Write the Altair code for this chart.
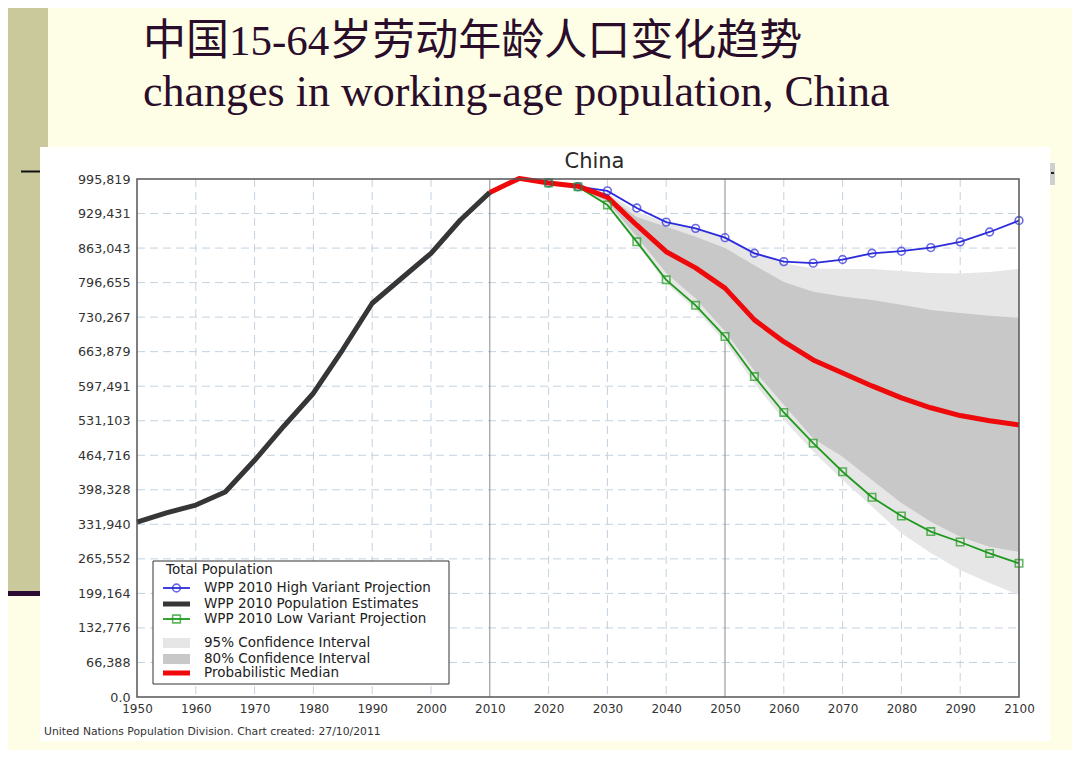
import altair as alt
import pandas as pd

# ---------------- data ----------------
YEARS_EST = [1950, 1955, 1960, 1965, 1970, 1975, 1980, 1985, 1990, 1995, 2000, 2005, 2010]
POP_EST = [336000, 354000, 369000, 394000, 455000, 521000, 584000, 668000, 757000, 805000, 853000, 917000, 970000]

YEARS_MED = [2010, 2015, 2020, 2025, 2030, 2035, 2040, 2045, 2050, 2055, 2060,
             2065, 2070, 2075, 2080, 2085, 2090, 2095, 2100]
POP_MEDIAN = [970000, 997000, 988000, 982000, 961000, 907000, 856000, 825000, 786000, 725000, 683000,
              648000, 623000, 598000, 575000, 556000, 541000, 531000, 523000]

YEARS_VAR = [2020, 2025, 2030, 2035, 2040, 2045, 2050, 2055, 2060, 2065,
             2070, 2075, 2080, 2085, 2090, 2095, 2100]
POP_HIGH = [988000, 981000, 973000, 940000, 913000, 901000, 883000, 853000, 837000, 834000,
            841000, 853000, 857000, 864000, 875000, 894000, 916000]
POP_LOW = [988000, 981000, 946000, 875000, 802000, 753000, 693000, 616000, 547000, 488000,
           433000, 384000, 348000, 318000, 298000, 276000, 257000]

YEARS_CI = [2025, 2030, 2035, 2040, 2045, 2050, 2055, 2060, 2065, 2070,
            2075, 2080, 2085, 2090, 2095, 2100]
CI80_LOW = [982000, 952000, 885000, 815000, 766000, 703000, 627000, 562000, 497000, 462000,
            417000, 373000, 337000, 308000, 289000, 279000]
CI80_HIGH = [982000, 964000, 923000, 904000, 885000, 863000, 830000, 798000, 779000, 770000,
             763000, 754000, 744000, 738000, 733000, 729000]
CI95_LOW = [982000, 945000, 870000, 795000, 745000, 683000, 603000, 533000, 472000, 417000,
            366000, 315000, 277000, 244000, 219000, 196000]
CI95_HIGH = [982000, 968000, 933000, 912000, 900000, 882000, 856000, 834000, 824000, 823000,
             823000, 819000, 815000, 814000, 817000, 823000]

X_TICKS = [1950, 1960, 1970, 1980, 1990, 2000, 2010, 2020, 2030, 2040, 2050,
           2060, 2070, 2080, 2090, 2100]
Y_TICKS = [0, 66388, 132776, 199164, 265552, 331940, 398328, 464716, 531103,
           597491, 663879, 730267, 796655, 863043, 929431, 995819]
SOLID_GRID_YEARS = [2010, 2050]

TITLE_ZH = "中国15-64岁劳动年龄人口变化趋势"
TITLE_EN = "changes in working-age population, China"
CHART_TITLE = "China"
SOURCE = "United Nations Population Division. Chart created: 27/10/2011"
LEGEND_TITLE = "Total Population"
LEGEND_LABELS = ["WPP 2010 High Variant Projection", "WPP 2010 Population Estimates",
                 "WPP 2010 Low Variant Projection", "95% Confidence Interval",
                 "80% Confidence Interval", "Probabilistic Median"]

# ---------------- styling ----------------
W, H = 882, 518
BLUE = "#2b2bdc"
GREEN = "#1f9a1f"
RED = "#ee0a0a"
BLACK = "#363636"
GRAY80 = "#c8c8c8"
GRAY95 = "#e6e6e6"
GRID = "#c3d2df"
FONT = "DejaVu Sans"

XS = alt.Scale(domain=[1950, 2100], nice=False, zero=False)
YS = alt.Scale(domain=[0, 995819], nice=False, zero=True)
XAX = alt.Axis(values=X_TICKS, format="d", grid=False, domain=False, ticks=False,
               labelPadding=6, labelFontSize=12, labelFont=FONT, labelColor="#333",
               title=None, zindex=1, labelFlush=False, labelOverlap=False)
YAX = alt.Axis(values=Y_TICKS, grid=False, domain=False, ticks=False,
               labelExpr="datum.value == 0 ? '0.0' : format(datum.value, ',.0f')",
               labelPadding=7, labelFontSize=12.7, labelFont=FONT, labelColor="#333",
               title=None, zindex=1, labelFlush=False, labelOverlap=False)


def X(f):
    return alt.X(f, type="quantitative", scale=XS, axis=XAX)


def Y(f):
    return alt.Y(f, type="quantitative", scale=YS, axis=YAX)


ONE = pd.DataFrame({"a": [0]})


def box(x, x2, y, y2, **kw):
    return alt.Chart(ONE).mark_rect(**kw).encode(
        x=alt.value(x), x2=alt.value(x2), y=alt.value(y), y2=alt.value(y2))


def hline(x, x2, y, **kw):
    return alt.Chart(ONE).mark_rule(**kw).encode(
        x=alt.value(x), x2=alt.value(x2), y=alt.value(y))


def label(txt, x, y, **kw):
    return alt.Chart(ONE).mark_text(text=txt, **kw).encode(x=alt.value(x), y=alt.value(y))


def sym(shape, x, y, color):
    return alt.Chart(ONE).mark_point(shape=shape, filled=False, size=60, color=color,
                                     strokeWidth=1.6).encode(x=alt.value(x), y=alt.value(y))


# ---------------- tables ----------------
est = pd.DataFrame({"year": YEARS_EST, "pop": POP_EST})
med = pd.DataFrame({"year": YEARS_MED, "pop": POP_MEDIAN})
hi = pd.DataFrame({"year": YEARS_VAR, "pop": POP_HIGH})
lo = pd.DataFrame({"year": YEARS_VAR, "pop": POP_LOW})
ci = pd.DataFrame({"year": YEARS_CI, "lo80": CI80_LOW, "hi80": CI80_HIGH,
                   "lo95": CI95_LOW, "hi95": CI95_HIGH})
vgrid_dash = pd.DataFrame({"year": [y for y in X_TICKS[1:-1] if y not in SOLID_GRID_YEARS]})
vgrid_solid = pd.DataFrame({"year": SOLID_GRID_YEARS})
hgrid = pd.DataFrame({"v": Y_TICKS[1:-1]})

# ---------------- slide decoration ----------------
deco = [
    box(-129, -89, -171, 412, fill="#c9c99c"),
    box(-129, -97, 412, 417, fill="#2b0b33"),
    box(-116, -97, -8.5, -6.5, fill="#111111"),
    box(-97, 913, -32, 562, fill="white"),
    box(913, 918, -16, 6, fill="#cfcfcf"),
    box(914, 917, -7, -5, fill="#222222"),
]

# ---------------- grid ----------------
grid = [
    alt.Chart(vgrid_dash).mark_rule(color=GRID, strokeDash=[8, 5], strokeWidth=1).encode(
        x=X("year"), y=alt.value(0), y2=alt.value(H)),
    alt.Chart(hgrid).mark_rule(color=GRID, strokeDash=[8, 5], strokeWidth=1).encode(
        y=Y("v"), x=alt.value(0), x2=alt.value(W)),
    alt.Chart(vgrid_solid).mark_rule(color="#8a8a8a", strokeWidth=1).encode(
        x=X("year"), y=alt.value(0), y2=alt.value(H)),
]

# ---------------- data marks ----------------
marks = [
    alt.Chart(ci).mark_area(color=GRAY95, opacity=1).encode(x=X("year"), y=Y("hi95"), y2="lo95"),
    alt.Chart(ci).mark_area(color=GRAY80, opacity=1).encode(x=X("year"), y=Y("hi80"), y2="lo80"),
    alt.Chart(hi).mark_line(color=BLUE, strokeWidth=1.8).encode(x=X("year"), y=Y("pop")),
    alt.Chart(lo).mark_line(color=GREEN, strokeWidth=1.8).encode(x=X("year"), y=Y("pop")),
    alt.Chart(med).mark_line(color=RED, strokeWidth=5, strokeJoin="round").encode(x=X("year"), y=Y("pop")),
    alt.Chart(hi).mark_point(shape="circle", filled=False, color=BLUE, size=60, strokeWidth=1.6).encode(
        x=X("year"), y=Y("pop")),
    alt.Chart(lo).mark_point(shape="square", filled=False, color=GREEN, size=55, strokeWidth=1.6).encode(
        x=X("year"), y=Y("pop")),
    alt.Chart(est).mark_line(color=BLACK, strokeWidth=5, strokeJoin="round").encode(x=X("year"), y=Y("pop")),
    box(0, W, 0, H, fillOpacity=0, stroke="#555555", strokeWidth=1.5),
]

# ---------------- legend (drawn by hand, like the original) ----------------
LX0, LX1 = 26, 53
TX = 67
rows = [409, 425, 440, 464, 480, 494]
lfont = dict(align="left", baseline="middle", font=FONT, fontSize=13.5, color="#222222")
legend = [
    box(16, 312, 382, 505, fill="white", stroke="#333333", strokeWidth=1),
    label(LEGEND_TITLE, 29, 391, **lfont),
    hline(LX0, LX1, rows[0], color=BLUE, strokeWidth=1.8),
    sym("circle", (LX0 + LX1) / 2, rows[0], BLUE),
    hline(LX0, LX1, rows[1], color=BLACK, strokeWidth=5),
    hline(LX0, LX1, rows[2], color=GREEN, strokeWidth=1.8),
    sym("square", (LX0 + LX1) / 2, rows[2], GREEN),
    box(LX0, LX1, rows[3] - 5, rows[3] + 5, fill=GRAY95),
    box(LX0, LX1, rows[4] - 5, rows[4] + 5, fill=GRAY80),
    hline(LX0, LX1, rows[5], color=RED, strokeWidth=5),
] + [label(t, TX, r, **lfont) for t, r in zip(LEGEND_LABELS, rows)]

# ---------------- texts ----------------
texts = [
    label(TITLE_ZH, 6, -124, align="left", baseline="alphabetic",
          font="Liberation Serif, 'Noto Sans CJK SC'", fontSize=43, color="#2a0d2a"),
    label(TITLE_EN, 6, -73, align="left", baseline="alphabetic",
          font="Liberation Serif", fontSize=44, color="#2a0d2a"),
    label(CHART_TITLE, 457.5, -11.5, align="center", baseline="alphabetic",
          font=FONT, fontSize=21, color="#2a2a2a"),
    label(SOURCE, -93, 556, align="left", baseline="alphabetic",
          font=FONT, fontSize=10.8, color="#333333"),
]

chart = alt.layer(*(deco + grid + marks + legend + texts)).properties(
    width=W, height=H,
    autosize=alt.AutoSizeParams(type="none"),
    padding={"left": 129, "top": 171, "right": 53, "bottom": 53},
    background="#fefee6",
).configure_view(stroke=None)

chart.save("out.html", embed_options={"renderer": "svg", "actions": False})
